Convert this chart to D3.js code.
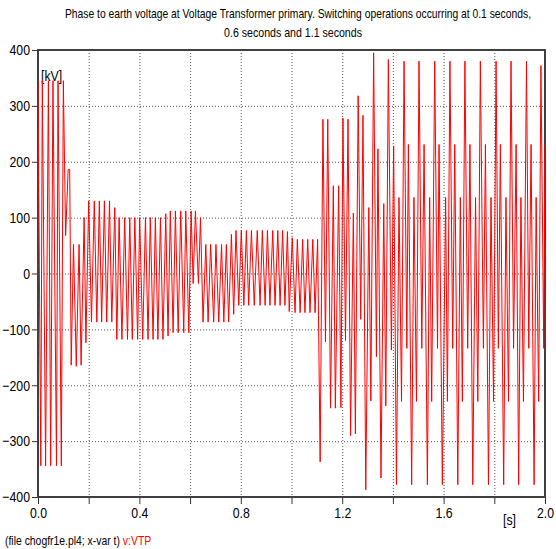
<!DOCTYPE html>
<html lang="en">
<head>
<meta charset="UTF-8">
<title>VT primary voltage</title>
<script src="https://cdnjs.cloudflare.com/ajax/libs/d3/7.8.5/d3.min.js"></script>
<style>
  body { margin: 0; background: #fff; }
  svg { display: block; }
  text { font-family: "Liberation Sans", Arial, sans-serif; }
</style>
</head>
<body>
<svg width="556" height="549"></svg>
<script>
// [time s, voltage kV] vertices, one array per switching interval
const before01 = [
  [0.000, 345], [0.011, -344], [0.017, 345], [0.030, -344], [0.041, 345], [0.050, -344],
  [0.059, 345], [0.073, -344], [0.079, 345], [0.092, -344], [0.100, 345]
];
const from01to06 = [
  [0.109, 68], [0.119, 186], [0.125, 186], [0.131, -164], [0.140, 52], [0.151, -166],
  [0.162, 52], [0.170, -164], [0.182, 100], [0.189, -124], [0.200, 130], [0.211, -87],
  [0.222, 130], [0.232, -87], [0.242, 130], [0.251, -87], [0.262, 130], [0.271, -87],
  [0.282, 130], [0.291, -87], [0.303, 118], [0.311, -118], [0.320, 100], [0.331, -118],
  [0.342, 100], [0.353, -118], [0.362, 100], [0.372, -118], [0.382, 100], [0.393, -118],
  [0.401, 100], [0.413, -118], [0.424, 100], [0.434, -118], [0.443, 100], [0.454, -118],
  [0.463, 100], [0.473, -118], [0.483, 100], [0.493, -118], [0.504, 107], [0.513, -112],
  [0.522, 112], [0.533, -106], [0.542, 112], [0.553, -106], [0.563, 112], [0.575, -106],
  [0.583, 112], [0.595, -106], [0.604, 112], [0.612, -18], [0.621, 112], [0.633, -18],
  [0.641, 100]
];
const from06to11 = [
  [0.651, -87], [0.662, 52], [0.671, -87], [0.681, 52], [0.693, -87], [0.702, 52],
  [0.713, -87], [0.724, 52], [0.733, -87], [0.743, 52], [0.752, -87], [0.763, 70],
  [0.772, -73], [0.781, 77], [0.792, -57], [0.802, 77], [0.812, -57], [0.822, 77],
  [0.831, -57], [0.842, 77], [0.853, -57], [0.865, 77], [0.876, -57], [0.885, 77],
  [0.896, -57], [0.905, 77], [0.915, -57], [0.926, 77], [0.935, -57], [0.946, 77],
  [0.955, -57], [0.965, 77], [0.974, -57], [0.984, 75], [0.991, -68], [1.003, 64],
  [1.014, -70], [1.023, 61], [1.034, -70], [1.044, 61], [1.053, -70], [1.064, 61],
  [1.073, -70], [1.084, 61], [1.093, -70], [1.103, 61]
];
const after11 = [
  [1.113, -337], [1.124, 276], [1.134, -122], [1.143, 276], [1.154, -241], [1.165, 157],
  [1.173, -241], [1.186, 157], [1.195, -240], [1.203, 278], [1.213, -120], [1.223, 276],
  [1.233, -290], [1.244, 108], [1.252, -287], [1.263, 318], [1.273, -82], [1.282, 283],
  [1.293, -387], [1.305, 118], [1.313, -228], [1.324, 395], [1.335, -149], [1.341, 223],
  [1.353, -366], [1.364, 125], [1.372, -237], [1.382, 383], [1.394, -137], [1.403, 228],
  [1.414, -378], [1.424, 136], [1.434, -229], [1.444, 380], [1.455, -134], [1.461, 231],
  [1.474, -378], [1.483, 136], [1.493, -229], [1.503, 380], [1.514, -134], [1.523, 231],
  [1.536, -378], [1.545, 136], [1.553, -229], [1.565, 380], [1.576, -134], [1.582, 231],
  [1.595, -378], [1.608, 136], [1.615, -229], [1.625, 380], [1.636, -134], [1.644, 231],
  [1.656, -378], [1.666, 136], [1.674, -229], [1.684, 380], [1.695, -134], [1.704, 231],
  [1.715, -378], [1.726, 136], [1.735, -229], [1.745, 380], [1.757, -134], [1.765, 231],
  [1.777, -378], [1.787, 136], [1.797, -229], [1.807, 380], [1.816, -134], [1.824, 231],
  [1.837, -378], [1.846, 136], [1.856, -229], [1.866, 380], [1.876, -134], [1.886, 231],
  [1.896, -378], [1.905, 136], [1.915, -229], [1.927, 380], [1.936, -134], [1.945, 231],
  [1.957, -378], [1.965, 136], [1.975, -229], [1.984, 372], [1.995, -134], [2.000, 229]
];

const yTicks = [-400, -300, -200, -100, 0, 100, 200, 300, 400];
const xTicks = [0, 0.2, 0.4, 0.6, 0.8, 1.0, 1.2, 1.4, 1.6, 1.8, 2.0];
const xTickLabels = ["0.0", "0.4", "0.8", "1.2", "1.6", "2.0"];
const titleLines = [
  "Phase to earth voltage at Voltage Transformer primary.  Switching operations occurring at 0.1 seconds,",
  "0.6 seconds and 1.1 seconds"
];

const svg = d3.select("svg");
const plotLeft = 38, plotRight = 545, plotTop = 50, plotBottom = 497;
const narrow = 0.82; // no condensed face installed, so squeeze glyphs horizontally

const x = d3.scaleLinear().domain([0, 2]).range([plotLeft, plotRight]);
const y = d3.scaleLinear().domain([-400, 400]).range([plotBottom, plotTop]);

// squeezed text at a given anchor point
function narrowText(px, py, size, str, anchor, squeeze) {
    return svg.append("text")
        .attr("transform", `translate(${px},${py}) scale(${squeeze || narrow},1)`)
        .attr("text-anchor", anchor || "start")
        .attr("font-size", size)
        .text(str);
}

// title, squeezed to the width it has in the original
[[298, 18, 466], [293, 37, 138]].forEach(([cx, cy, w], i) => {
    const t = narrowText(cx, cy, 12, titleLines[i], "middle");
    const natural = t.node().getComputedTextLength();
    t.attr("transform", `translate(${cx},${cy}) scale(${w / natural},1)`);
});

// dotted grid
svg.append("g")
    .selectAll("line")
    .data(yTicks.slice(1, -1))
    .join("line")
    .attr("x1", plotLeft).attr("x2", plotRight)
    .attr("y1", d => y(d) + 0.5).attr("y2", d => y(d) + 0.5)
    .attr("stroke", "#555").attr("stroke-dasharray", "1,2");
svg.append("g")
    .selectAll("line")
    .data(xTicks.slice(1, -1))
    .join("line")
    .attr("x1", d => x(d) + 0.5).attr("x2", d => x(d) + 0.5)
    .attr("y1", plotTop).attr("y2", plotBottom)
    .attr("stroke", "#555").attr("stroke-dasharray", "1,2");

// axes
const yAxis = d3.axisLeft(y).tickValues(yTicks).tickSize(6).tickPadding(2).tickFormat(d3.format("d"));
const xAxis = d3.axisBottom(x).tickValues(xTicks).tickSize(7).tickPadding(3)
    .tickFormat(d => xTickLabels.includes(d.toFixed(1)) ? d.toFixed(1) : "");

svg.append("g").attr("transform", `translate(${plotLeft},0)`).call(yAxis)
    .call(g => g.select(".domain").remove())
    .call(g => g.selectAll("line").attr("stroke", "#333"))
    .call(g => g.selectAll("text")
        .attr("x", -8 / narrow)
        .attr("transform", `scale(${narrow},1)`)
        .attr("font-size", 15).attr("font-family", null).attr("fill", "#000"));
svg.append("g").attr("transform", `translate(0,${plotBottom})`).call(xAxis)
    .call(g => g.select(".domain").remove())
    .call(g => g.selectAll("line").attr("stroke", "#333"))
    .call(g => g.selectAll("text")
        .attr("transform", `scale(${narrow},1)`)
        .attr("font-size", 15).attr("font-family", null).attr("fill", "#000"));

// frame
svg.append("rect")
    .attr("x", plotLeft).attr("y", plotTop)
    .attr("width", plotRight - plotLeft).attr("height", plotBottom - plotTop)
    .attr("fill", "none").attr("stroke", "#404040").attr("stroke-width", 2);

// unit labels
narrowText(41, 81, 15, "[kV]");
narrowText(503, 525, 15, "[s]");

// the trace
svg.append("clipPath").attr("id", "plotClip")
    .append("rect").attr("x", plotLeft).attr("y", plotTop)
    .attr("width", plotRight - plotLeft).attr("height", plotBottom - plotTop);

const trace = before01.concat(from01to06, from06to11, after11);
const line = d3.line().x(d => x(d[0])).y(d => y(d[1]));
svg.append("path")
    .datum(trace)
    .attr("clip-path", "url(#plotClip)")
    .attr("d", line)
    .attr("fill", "none")
    .attr("stroke", "#ff0000")
    .attr("stroke-width", 1);

// footer
const foot = narrowText(5, 545, 13, "", "start", 0.8);
foot.append("tspan").attr("fill", "#000").text("(file chogfr1e.pl4; x-var t) ");
foot.append("tspan").attr("fill", "#ff0000").text("v:VTP");
</script>
</body>
</html>
